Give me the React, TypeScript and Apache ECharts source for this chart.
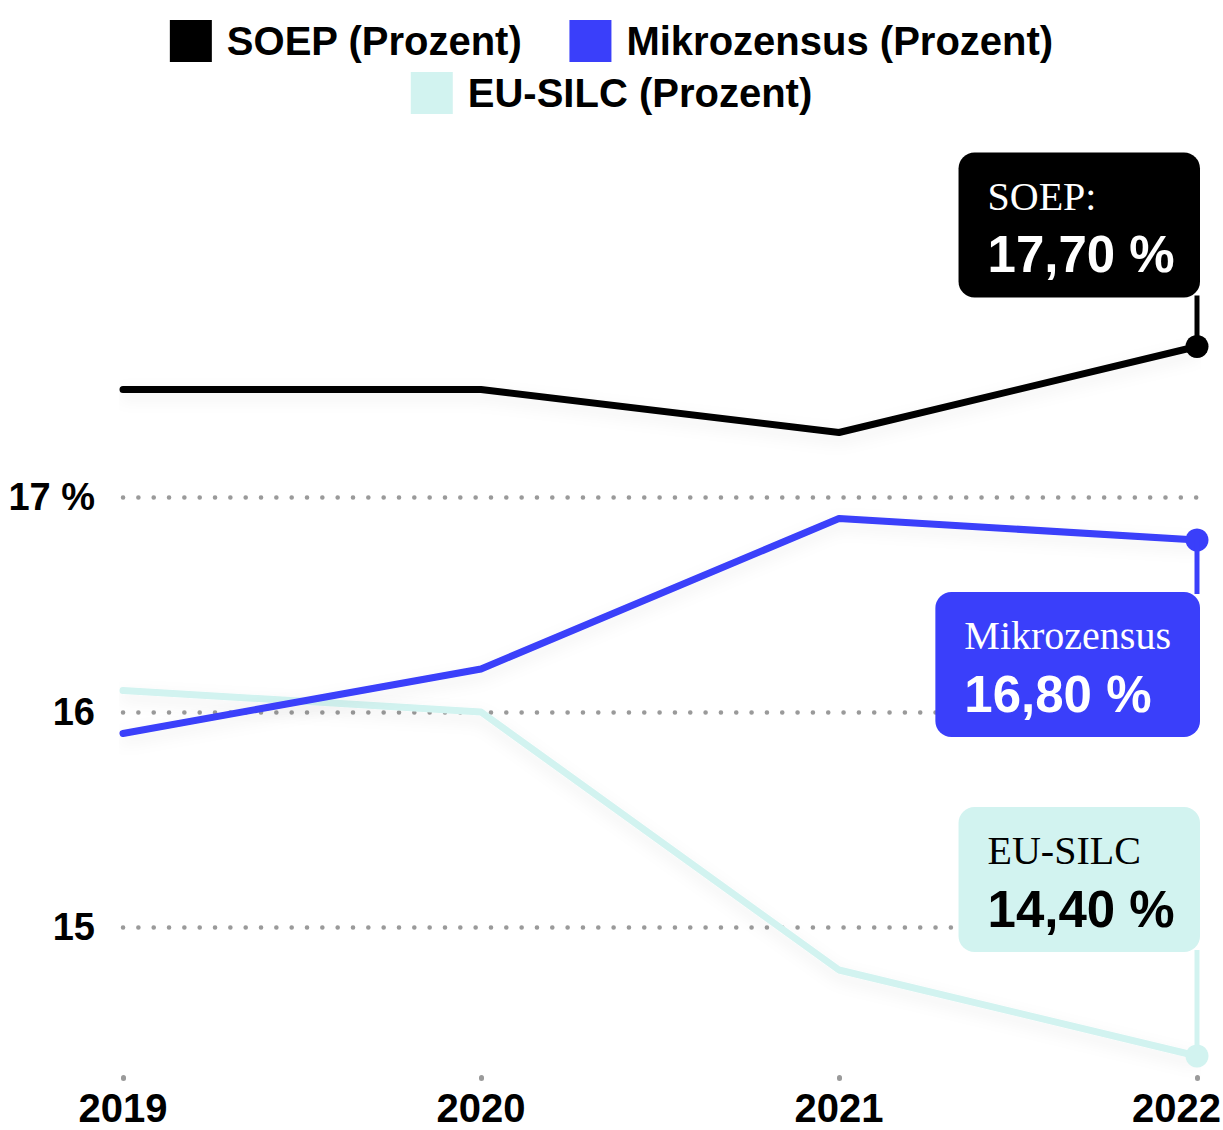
import React, { useEffect, useRef } from "react";
import * as echarts from "echarts";

// ---- data ----
const years = ["2019", "2020", "2021", "2022"];
const soep = [17.5, 17.5, 17.3, 17.7];
const mikrozensus = [15.9, 16.2, 16.9, 16.8];
const euSilc = [16.1, 16.0, 14.8, 14.4];
const yTicks = [15, 16, 17];
const seriesNames = ["SOEP (Prozent)", "Mikrozensus (Prozent)", "EU-SILC (Prozent)"];
const calloutTitles = ["SOEP:", "Mikrozensus", "EU-SILC"];

const COLORS = ["#000000", "#3a3ffa", "#d2f3f0"];
const CALLOUT_TEXT = ["#ffffff", "#ffffff", "#000000"];
// placement of callout box relative to last point: [above?, gap]
const CALLOUT_PLACE: [boolean, number][] = [
  [true, 49],
  [false, 52],
  [true, 104],
];

const W = 1223;
const H = 1130;
const SANS = '"Liberation Sans", Arial, sans-serif';
const SERIF = '"Liberation Serif", "Times New Roman", serif';

const fmt = (v: number) => v.toFixed(2).replace(".", ",") + " %";

function measure(text: string, font: string) {
  const c = document.createElement("canvas").getContext("2d");
  if (!c) return text.length * 20;
  c.font = font;
  return c.measureText(text).width;
}

export default function App() {
  const ref = useRef<HTMLDivElement>(null);

  useEffect(() => {
    if (!ref.current) return;
    const chart = echarts.init(ref.current, undefined, { renderer: "svg" });
    const allData = [soep, mikrozensus, euSilc];
    const last = years.length - 1;

    const lineSeries = allData.map((d, i) => ({
      name: seriesNames[i],
      type: "line",
      data: d,
      z: 10 - i,
      symbol: "circle",
      showSymbol: true,
      symbolSize: (_v: any, p: any) => (p.dataIndex === last ? 23 : 0),
      itemStyle: { color: COLORS[i] },
      lineStyle: {
        color: COLORS[i],
        width: 7,
        cap: "round",
        join: "round",
        shadowColor: "rgba(0,0,0,0.07)",
        shadowBlur: 16,
        shadowOffsetY: 6,
      },
      emphasis: { disabled: true },
      silent: true,
    }));

    const legendText = {
      fontFamily: SANS,
      fontWeight: 700,
      fontSize: 40,
      color: "#000",
      padding: [0, 0, 0, 10],
    };

    const option: any = {
      animation: false,
      legend: [
        {
          data: [seriesNames[0], seriesNames[1]],
          top: 20,
          left: "center",
          icon: "rect",
          itemWidth: 42,
          itemHeight: 42,
          itemGap: 47,
          padding: 0,
          selectedMode: false,
          textStyle: legendText,
        },
        {
          data: [seriesNames[2]],
          top: 72,
          left: "center",
          icon: "rect",
          itemWidth: 42,
          itemHeight: 42,
          padding: 0,
          selectedMode: false,
          textStyle: legendText,
        },
      ],
      grid: { left: 123, right: 26, top: 174.5, bottom: 52.5, containLabel: false },
      xAxis: {
        type: "category",
        data: years,
        boundaryGap: false,
        axisLine: { show: false },
        axisTick: {
          show: true,
          length: 1,
          lineStyle: { color: "#9a9a9a", width: 5, cap: "round" },
        },
        axisLabel: {
          margin: 10,
          fontFamily: SANS,
          fontWeight: 700,
          fontSize: 40,
          lineHeight: 40,
          color: "#000",
          formatter: (v: string, i: number) => (i === years.length - 1 ? "" : v),
        },
        splitLine: { show: false },
      },
      yAxis: {
        type: "value",
        min: 14.3,
        max: 18.5,
        axisLine: { show: false },
        axisTick: { show: false },
        splitLine: { show: false },
        axisLabel: {
          customValues: yTicks,
          margin: 28,
          fontFamily: SANS,
          fontWeight: 700,
          fontSize: 38,
          color: "#000",
          formatter: (v: number) =>
            yTicks.indexOf(v) < 0 ? "" : v === yTicks[yTicks.length - 1] ? v + " %" : String(v),
        },
      },
      series: [
        {
          name: "grid",
          type: "line",
          data: years.map(() => null),
          z: 1,
          silent: true,
          markLine: {
            silent: true,
            symbol: ["none", "none"],
            label: { show: false },
            emphasis: { disabled: true },
            lineStyle: { color: "#9a9a9a", width: 4.5, type: [0.1, 15.23], cap: "round" },
            data: yTicks.map((v) => ({ yAxis: v })),
          },
        },
        ...lineSeries,
      ],
    };
    chart.setOption(option);

    // callouts, built from the last data point through the chart's scales
    const graphics: any[] = [];
    const titleFont = `400 40px ${SERIF}`;
    const valueFont = `700 50px ${SANS}`;
    allData.forEach((d, i) => {
      const [px, py] = chart.convertToPixel({ gridIndex: 0 }, [last, d[last]]) as number[];
      const title = calloutTitles[i];
      const value = fmt(d[last]);
      const w = Math.max(measure(title, titleFont), measure(value, valueFont)) + 58;
      const h = 145;
      const right = px + 3;
      const left = right - w;
      const [above, gap] = CALLOUT_PLACE[i];
      const top = above ? py - gap - h : py + gap;
      graphics.push({
        type: "line",
        z: 50,
        silent: true,
        shape: { x1: px, y1: py, x2: px, y2: above ? top + h - 2 : top + 2 },
        style: { stroke: COLORS[i], lineWidth: 5 },
      });
      graphics.push({
        type: "rect",
        z: 51,
        silent: true,
        shape: { x: left, y: top, width: w, height: h, r: 16 },
        style: { fill: COLORS[i] },
      });
      graphics.push({
        type: "text",
        z: 52,
        silent: true,
        x: left + 29,
        y: top + 43.5,
        style: {
          text: title,
          fontFamily: SERIF,
          fontSize: 40,
          fontWeight: 400,
          fill: CALLOUT_TEXT[i],
          align: "left",
          verticalAlign: "middle",
        },
      });
      graphics.push({
        type: "text",
        z: 52,
        silent: true,
        x: left + 29,
        y: top + 102,
        style: {
          text: value,
          fontFamily: SANS,
          fontSize: 51,
          fontWeight: 700,
          fill: CALLOUT_TEXT[i],
          align: "left",
          verticalAlign: "middle",
        },
      });
    });

    // last x-axis label, pushed to the right edge as in the original
    const [lx] = chart.convertToPixel({ gridIndex: 0 }, [last, 14.3]) as number[];
    const axisY = chart.convertToPixel({ yAxisIndex: 0 }, 14.3) as number;
    graphics.push({
      type: "text",
      z: 20,
      silent: true,
      x: lx + 24,
      y: axisY + 10,
      style: {
        text: years[last],
        fontFamily: SANS,
        fontSize: 40,
        lineHeight: 40,
        fontWeight: 700,
        fill: "#000",
        align: "right",
        verticalAlign: "top",
      },
    });

    chart.setOption({ graphic: graphics });

    return () => chart.dispose();
  }, []);

  return (
    <div
      ref={ref}
      style={{ position: "absolute", left: 0, top: 0, width: W, height: H, background: "#fff" }}
    />
  );
}
